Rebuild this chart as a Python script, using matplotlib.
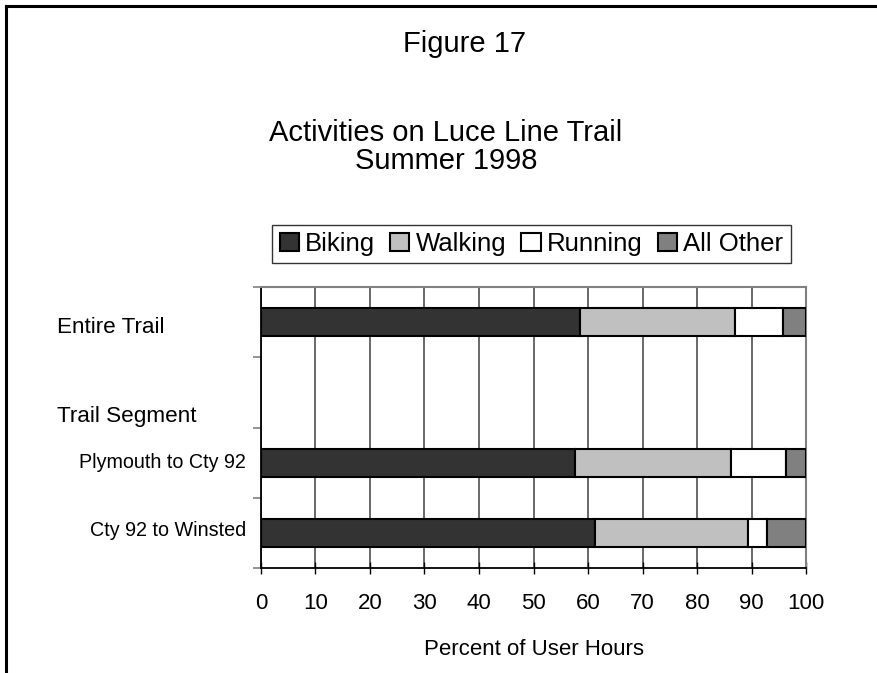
import matplotlib
matplotlib.use("Agg")
import matplotlib.pyplot as plt
from matplotlib.lines import Line2D
import matplotlib.transforms as mtransforms

plt.rcParams['font.family'] = ['Liberation Sans', 'DejaVu Sans']

# ---- data ----
categories = ["Entire Trail", "Plymouth to Cty 92", "Cty 92 to Winsted"]
cat_pos = [0, 2, 3]                      # slot 1 is the "Trail Segment" header
series_names = ["Biking", "Walking", "Running", "All Other"]
biking = [58.5, 57.7, 61.2]
walking = [28.4, 28.6, 28.1]
running = [8.8, 10.1, 3.6]
other = [4.3, 3.6, 7.1]
series_colors = ["#333333", "#c0c0c0", "#ffffff", "#808080"]
xticks = [0, 10, 20, 30, 40, 50, 60, 70, 80, 90, 100]

W, H = 878, 673
fig = plt.figure(figsize=(W / 100, H / 100), dpi=100)
fig.patch.set_facecolor("white")

# axes placement (pixels)
ax_l, ax_r, ax_t, ax_b = 261, 806, 287, 568
ax = fig.add_axes([ax_l / W, 1 - ax_b / H, (ax_r - ax_l) / W, (ax_b - ax_t) / H])

values = [biking, walking, running, other]
left = [0.0] * len(categories)
handles = []
for name, vals, col in zip(series_names, values, series_colors):
    b = ax.barh(cat_pos, vals, left=left, height=0.4, color=col,
                edgecolor="black", linewidth=1.5, label=name, zorder=3)
    handles.append(b)
    left = [l + v for l, v in zip(left, vals)]

ax.set_xlim(0, 100)
ax.set_ylim(3.5, -0.5)
ax.set_xticks(xticks)
ax.set_xticklabels([str(t) for t in xticks], fontsize=16)
ax.tick_params(axis="x", direction="inout", length=8, width=1, pad=14, color="black")
ax.set_yticks([-0.5, 0.5, 1.5, 2.5, 3.5])
ax.set_yticklabels([])
ax.tick_params(axis="y", direction="out", length=6, width=1.2, color="#808080")
ax.xaxis.grid(True, color="#404040", linewidth=1.1, zorder=0)
ax.set_axisbelow(True)
for s in ["top", "right"]:
    ax.spines[s].set_color("#808080")
    ax.spines[s].set_linewidth(1.5)
for s in ["left", "bottom"]:
    ax.spines[s].set_color("black")
    ax.spines[s].set_linewidth(1.3)

ax.set_xlabel("Percent of User Hours", fontsize=16, labelpad=18)

# category labels
trans = mtransforms.blended_transform_factory(ax.transAxes, ax.transData)
ax.text(-0.374, 0.07, categories[0], transform=trans, ha="left", va="center", fontsize=16.2)
ax.text(-0.374, 1.35, "Trail Segment", transform=trans, ha="left", va="center", fontsize=16.2)
ax.text(-0.0275, 2.0, categories[1], transform=trans, ha="right", va="center", fontsize=14.2)
ax.text(-0.0275, 2.97, categories[2], transform=trans, ha="right", va="center", fontsize=14.2)

# titles
fig.text(465 / W, 1 - 44 / H, "Figure 17", ha="center", va="center", fontsize=21)
fig.text(446 / W, 1 - 133 / H, "Activities on Luce Line Trail", ha="center", va="center", fontsize=21)
fig.text(446 / W, 1 - 161 / H, "Summer 1998", ha="center", va="center", fontsize=21)

# legend
leg = fig.legend(handles=handles, labels=series_names, loc="center",
                 bbox_to_anchor=(531.5 / W, 1 - 244 / H), ncol=4, fontsize=18.5,
                 frameon=True, fancybox=False, edgecolor="black",
                 handlelength=0.75, handleheight=0.75, handletextpad=0.25,
                 columnspacing=0.58, borderpad=0.28, borderaxespad=0)
leg.get_frame().set_linewidth(1.0)

# outer frame (extends past right and bottom edges)
fig.add_artist(Line2D([6 / W, 1.0], [1 - 6 / H, 1 - 6 / H], transform=fig.transFigure,
                      color="black", linewidth=2.2))
fig.add_artist(Line2D([6 / W, 6 / W], [1 - 6 / H, 0.0], transform=fig.transFigure,
                      color="black", linewidth=2.2))

fig.savefig("out.png", dpi=100, facecolor="white")
